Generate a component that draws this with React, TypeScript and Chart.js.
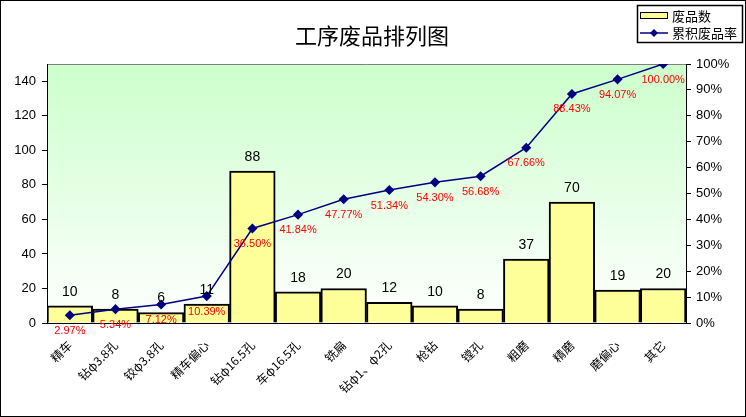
import { useEffect, useRef } from 'react';
import Chart from 'chart.js/auto';

// Pareto chart of scrap per process: bars = count, line = cumulative rate.
const CATEGORIES = [
  '精车', '钻φ3.8孔', '铰φ3.8孔', '精车偏心', '钻φ16.5孔', '车φ16.5孔', '铣扁',
  '钻φ1、φ2孔', '枪钻', '镗孔', '粗磨', '精磨', '磨偏心', '其它',
];
const SCRAP_COUNT = [10, 8, 6, 11, 88, 18, 20, 12, 10, 8, 37, 70, 19, 20];
const CUM_RATE = [2.97, 5.34, 7.12, 10.39, 36.5, 41.84, 47.77, 51.34, 54.3, 56.68, 67.66, 88.43, 94.07, 100];
const COUNT_TICKS = [0, 20, 40, 60, 80, 100, 120, 140];
const RATE_TICKS = [0, 10, 20, 30, 40, 50, 60, 70, 80, 90, 100];

const TITLE = '工序废品排列图';
const FONT = "'Liberation Sans', 'Noto Sans CJK SC', sans-serif";
const CJK = "'Noto Sans CJK SC', 'Liberation Sans', sans-serif";
const BAR_FILL = '#ffff99';
const LINE = '#000080';

const decorations = {
  id: 'decorations',
  beforeDraw(chart: Chart) {
    const { ctx, chartArea: a, width, height } = chart;
    ctx.save();
    ctx.fillStyle = '#fff';
    ctx.fillRect(0, 0, width, height);
    const g = ctx.createLinearGradient(0, a.top, 0, a.bottom);
    g.addColorStop(0, '#ccffcc');
    g.addColorStop(1, '#ffffff');
    ctx.fillStyle = g;
    ctx.fillRect(a.left, a.top, a.right - a.left, a.bottom - a.top);
    ctx.strokeStyle = '#808080';
    ctx.lineWidth = 1;
    ctx.beginPath();
    ctx.moveTo(a.left, a.top + 0.5);
    ctx.lineTo(a.right, a.top + 0.5);
    ctx.stroke();
    ctx.restore();
  },
  afterDraw(chart: Chart) {
    const { ctx, width, height } = chart;
    ctx.save();
    // value labels
    const bars = chart.getDatasetMeta(0).data;
    ctx.fillStyle = '#000';
    ctx.font = `14px ${FONT}`;
    ctx.textAlign = 'center';
    ctx.textBaseline = 'bottom';
    bars.forEach((b: any, i) => ctx.fillText(String(SCRAP_COUNT[i]), b.x, b.y - 7));
    const pts = chart.getDatasetMeta(1).data;
    ctx.fillStyle = '#ff0000';
    ctx.font = `11px ${FONT}`;
    ctx.textBaseline = 'top';
    pts.forEach((p: any, i) => ctx.fillText(CUM_RATE[i].toFixed(2) + '%', p.x, p.y + 10));

    // title
    ctx.fillStyle = '#000';
    ctx.font = `22px ${CJK}`;
    ctx.textBaseline = 'middle';
    ctx.fillText(TITLE, 372, 36);

    // legend
    ctx.strokeStyle = '#000';
    ctx.lineWidth = 1.5;
    ctx.strokeRect(637.5, 5.5, 105, 37);
    ctx.fillStyle = BAR_FILL;
    ctx.fillRect(640.5, 12.5, 27, 6);
    ctx.lineWidth = 1;
    ctx.strokeRect(640.5, 12.5, 27, 6);
    ctx.strokeStyle = LINE;
    ctx.lineWidth = 1.5;
    ctx.beginPath();
    ctx.moveTo(640, 33);
    ctx.lineTo(668, 33);
    ctx.stroke();
    ctx.fillStyle = LINE;
    ctx.beginPath();
    ctx.moveTo(654, 29);
    ctx.lineTo(658, 33);
    ctx.lineTo(654, 37);
    ctx.lineTo(650, 33);
    ctx.closePath();
    ctx.fill();
    ctx.fillStyle = '#000';
    ctx.font = `13px ${CJK}`;
    ctx.textAlign = 'left';
    ctx.fillText(chart.data.datasets[0].label as string, 672, 16);
    ctx.fillText(chart.data.datasets[1].label as string, 672, 33);

    // outer frame
    ctx.strokeStyle = '#000';
    ctx.lineWidth = 1;
    ctx.strokeRect(0.5, 0.5, width - 1, height - 1);
    ctx.restore();
  },
};

export default function App() {
  const canvasRef = useRef<HTMLCanvasElement | null>(null);

  useEffect(() => {
    const el = canvasRef.current;
    if (!el) return;
    const chart = new Chart(el, {
      type: 'bar',
      data: {
        labels: CATEGORIES,
        datasets: [
          {
            type: 'bar',
            label: '废品数',
            data: SCRAP_COUNT,
            backgroundColor: BAR_FILL,
            borderColor: '#000',
            borderWidth: 2,
            barPercentage: 1,
            categoryPercentage: 1,
            yAxisID: 'y',
            order: 2,
          },
          {
            type: 'line',
            label: '累积废品率',
            data: CUM_RATE,
            borderColor: LINE,
            backgroundColor: LINE,
            borderWidth: 1.5,
            pointStyle: 'rectRot',
            pointRadius: 4,
            pointBackgroundColor: LINE,
            pointBorderColor: LINE,
            tension: 0,
            yAxisID: 'y1',
            order: 1,
          },
        ],
      },
      options: {
        responsive: true,
        maintainAspectRatio: false,
        animation: false,
        layout: { padding: { top: 64, left: 0, right: 0, bottom: 0 } },
        plugins: { legend: { display: false }, title: { display: false }, tooltip: { enabled: false } },
        scales: {
          x: {
            offset: true,
            grid: { display: false, drawTicks: false },
            border: { display: true, color: '#000', width: 1 },
            ticks: {
              autoSkip: false,
              maxRotation: 45,
              minRotation: 45,
              padding: 15,
              color: '#000',
              font: { size: 12, family: CJK },
            },
            afterFit: (s: any) => { s.height = 94; },
          },
          y: {
            position: 'left',
            min: 0,
            max: 150,
            grid: { display: true, drawOnChartArea: false, drawTicks: true, tickLength: 5, color: '#000' },
            border: { display: true, color: '#000', width: 1 },
            ticks: { color: '#000', padding: 6, font: { size: 13, family: FONT } },
            afterBuildTicks: (s: any) => { s.ticks = COUNT_TICKS.map((v) => ({ value: v })); },
            afterFit: (s: any) => { s.width = 47; },
          },
          y1: {
            position: 'right',
            min: 0,
            max: 100,
            grid: { display: true, drawOnChartArea: false, drawTicks: true, tickLength: 5, color: '#000' },
            border: { display: true, color: '#000', width: 1 },
            ticks: { color: '#000', padding: 5, font: { size: 13, family: FONT }, callback: (v: any) => v + '%' },
            afterBuildTicks: (s: any) => { s.ticks = RATE_TICKS.map((v) => ({ value: v })); },
            afterFit: (s: any) => { s.width = 60; },
          },
        },
      },
      plugins: [decorations],
    });
    return () => chart.destroy();
  }, []);

  return (
    <div style={{ position: 'fixed', left: 0, top: 0, width: 746, height: 417, background: '#fff' }}>
      <canvas ref={canvasRef} />
    </div>
  );
}
